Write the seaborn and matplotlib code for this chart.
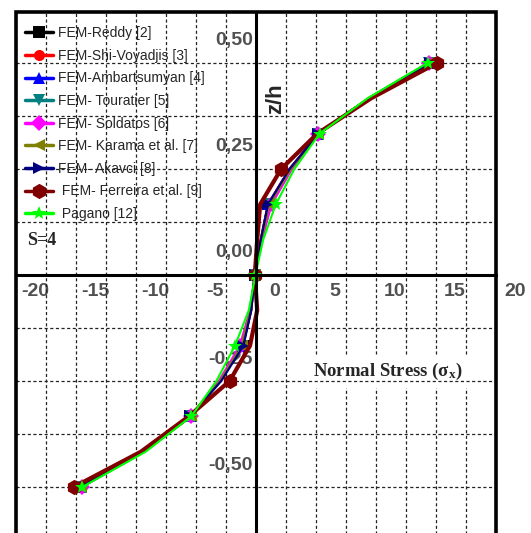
import numpy as np
import matplotlib
matplotlib.use("Agg")
import matplotlib.pyplot as plt
import seaborn as sns
from matplotlib.ticker import MultipleLocator
from matplotlib.transforms import ScaledTranslation
from matplotlib.patches import Rectangle

# posiciones a traves del espesor (z/h)
z_h = [-0.5, -0.4167, -0.3333, -0.25, -0.1667, -0.0833, 0.0,
       0.0833, 0.1667, 0.25, 0.3333, 0.4167, 0.5]

# esfuerzo normal sigma_x por modelo
reddy = [-14.7, -9.4, -5.5, -3.0, -1.1, -0.4, -0.1, 0.4, 1.0, 2.8, 5.2, 9.5, 14.5]
shi_voyadjis = [-14.7, -9.4, -5.5, -3.0, -1.1, -0.4, -0.1, 0.4, 1.0, 2.8, 5.2, 9.5, 14.5]
ambartsumyan = [-14.6, -9.4, -5.4, -3.0, -1.2, -0.45, -0.1, 0.45, 1.1, 2.9, 5.2, 9.4, 14.4]
touratier = [-14.6, -9.4, -5.4, -3.0, -1.2, -0.45, -0.1, 0.45, 1.1, 2.9, 5.2, 9.4, 14.4]
soldatos = [-14.5, -9.3, -5.4, -3.1, -1.35, -0.5, -0.1, 0.5, 1.3, 3.0, 5.2, 9.4, 14.4]
karama = [-14.6, -9.4, -5.4, -3.0, -1.2, -0.45, -0.1, 0.45, 1.1, 2.9, 5.2, 9.4, 14.4]
akavci = [-14.7, -9.4, -5.5, -2.9, -1.05, -0.4, -0.1, 0.4, 1.0, 2.8, 5.2, 9.5, 14.5]
ferreira = [-15.2, -9.6, -5.6, -2.2, -0.5, 0.1, -0.1, 0.1, 0.35, 2.1, 5.1, 9.6, 15.1]
pagano = [-14.5, -9.2, -5.4, -3.3, -1.75, -0.6, -0.05, 0.6, 1.65, 3.2, 5.3, 9.3, 14.3]

labels = ["FEM-Reddy [2]", "FEM-Shi-Voyadjis [3]", "FEM-Ambartsumyan [4]",
          "FEM- Touratier [5]", "FEM- Soldatos [6]", "FEM- Karama et al. [7]",
          "FEM- Akavci [8]", " FEM- Ferreira et al. [9]", " Pagano [12]"]

x_ticks = [-20, -15, -10, -5, 0, 5, 10, 15, 20]
x_tick_labels = ["-20", "-15", "-10", "-5", "0", "5", "10", "15", "20"]
y_ticks = [-0.5, -0.25, 0.0, 0.25, 0.5]
y_tick_labels = ["-0,50", "-0,25", "0,00", "0,25", "0,50"]

series = [reddy, shi_voyadjis, ambartsumyan, touratier, soldatos, karama, akavci, ferreira, pagano]
colores = ["#000000", "#ff0000", "#0000ff", "#008080", "#ff00ff", "#808000", "#000080", "#800000", "#00ff00"]
marcadores = ["s", "o", "^", "v", "D", "<", ">", "h", "*"]

sns.set_style("white")
plt.rcParams["font.family"] = ["Liberation Sans", "DejaVu Sans"]

fig = plt.figure(figsize=(5.31, 5.33), dpi=100)
ax = fig.add_axes([16 / 531, 1 - 538 / 533, 480 / 531, 526 / 533])

for vals, lab, col, mk in zip(series, labels, colores, marcadores):
    if col == "#800000":
        lw, ms, every = 3.0, 11, 3
    elif col == "#00ff00":
        lw, ms, every = 1.5, 10, 2
    else:
        lw, ms, every = 1.6, 8, 2
    sns.lineplot(x=vals, y=z_h, sort=False, estimator=None, ax=ax, color=col,
                 marker=mk, markersize=ms, markevery=every, linewidth=lw,
                 markeredgewidth=0, label=lab)

ax.set_xlim(-20, 20)
ax.set_ylim(-0.62, 0.62)

# ejes cruzados en el origen, estilo Origin
for s in ["top", "right"]:
    ax.spines[s].set_visible(False)
for s in ["left", "bottom"]:
    ax.spines[s].set_position(("data", 0))
    ax.spines[s].set_linewidth(2.2)
    ax.spines[s].set_color("black")
ax.add_patch(Rectangle((0, 0), 1, 1, transform=ax.transAxes, fill=False,
                       lw=2.6, ec="black", clip_on=False, zorder=5))

ax.set_xticks(x_ticks)
ax.set_xticklabels(x_tick_labels)
ax.set_yticks(y_ticks)
ax.set_yticklabels(y_tick_labels)
ax.xaxis.set_minor_locator(MultipleLocator(2.5))
ax.yaxis.set_minor_locator(MultipleLocator(0.125))
ax.tick_params(axis="x", which="major", direction="out", length=7.2, width=2, pad=0,
               labelsize=14, labelcolor="#505050")
ax.tick_params(axis="x", which="minor", length=0)
ax.tick_params(axis="y", which="both", direction="out", length=4.3, width=1.5, pad=0,
               labelsize=14, labelcolor="#505050")
for t in ax.get_xticklabels():
    t.set_fontweight("bold")
    t.set_transform(t.get_transform() + ScaledTranslation(0.19, 0.02, fig.dpi_scale_trans))
for t in ax.get_yticklabels():
    t.set_fontweight("bold")
    t.set_transform(t.get_transform() + ScaledTranslation(0.03, 0.24, fig.dpi_scale_trans))

ax.grid(which="both", linestyle=(0, (2.5, 2)), linewidth=0.9, color="#222222")

ax.set_ylabel("z/h", fontsize=16, fontweight="bold", ha="center", va="center")
ax.yaxis.set_label_coords(0.54, 0.835)
ax.set_xlabel("Normal Stress ($\\mathregular{\\sigma_x}$)", family=["Liberation Serif", "DejaVu Serif"],
              fontsize=13.5, fontweight="bold", ha="center", va="center",
              bbox=dict(facecolor="white", edgecolor="none", pad=4))
ax.xaxis.set_label_coords(0.775, 0.316)

ax.text(0.023, 0.565, "S=4", transform=ax.transAxes, family=["Liberation Serif", "DejaVu Serif"],
        fontsize=13, fontweight="bold", ha="left", va="center")

leg = ax.legend(loc="upper left", bbox_to_anchor=(0.019, 0.973), frameon=False, fontsize=10,
                borderpad=0, borderaxespad=0, labelspacing=0.62, handlelength=2.0,
                handletextpad=0.4, numpoints=1)
for h in leg.legend_handles:
    h.set_linewidth(2.5)

fig.savefig("out.png", dpi=100)
